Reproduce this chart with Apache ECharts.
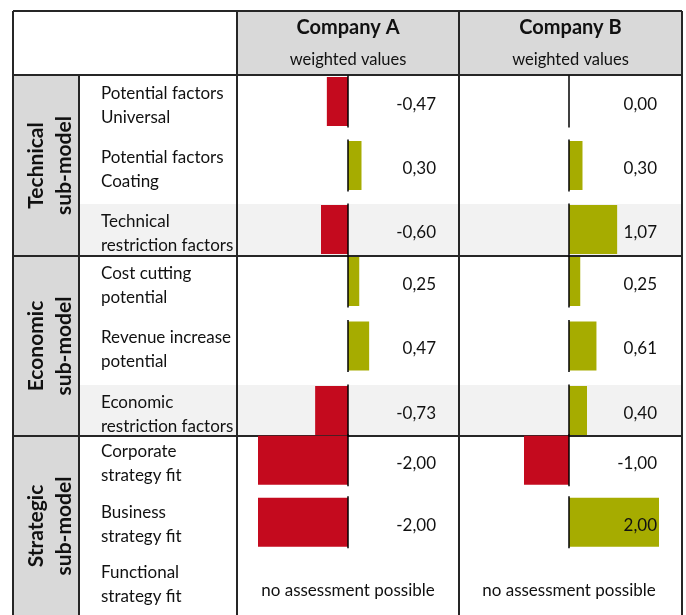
<!DOCTYPE html>
<html>
<head>
<meta charset="utf-8">
<script src="https://cdn.jsdelivr.net/npm/echarts@6/dist/echarts.min.js"></script>
<style>
  html, body { margin: 0; padding: 0; background: #fff; }
  #chart { width: 686px; height: 615px; }
</style>
</head>
<body>
<div id="chart"></div>
<script>
// data
var groups = ['Technical\nsub-model', 'Economic\nsub-model', 'Strategic\nsub-model']
var criteria = [
  ['Potential factors\nUniversal', 'Potential factors\nCoating', 'Technical\nrestriction factors'],
  ['Cost cutting\npotential', 'Revenue increase\npotential', 'Economic\nrestriction factors'],
  ['Corporate\nstrategy fit', 'Business\nstrategy fit', 'Functional\nstrategy fit']
]
var companies = ['Company A', 'Company B']
var subTitle = 'weighted values'
var companyA = [-0.47, 0.30, -0.60, 0.25, 0.47, -0.73, -2.00, -2.00, null]
var companyB = [0.00, 0.30, 1.07, 0.25, 0.61, 0.40, -1.00, 2.00, null]
var noValueText = 'no assessment possible'
var shadedRows = [2, 5]

var FONT = 'Lato'
var RED = '#c40a1e'
var OLIVE = '#a6ac00'
var LINE = '#262626'

// table layout
var colX = [13, 79, 237, 459, 682]
var rowY = [11, 75, 256, 436, 616]
var rowH = [64, 64.5, 65.5]
var firstRowCenter = [101.5, 281.5, 462]

var chart = echarts.init(document.getElementById('chart'))

function fmt (v) {
  return v.toFixed(2).replace('.', ',')
}

var grids = []
var xAxes = []
var yAxes = []
var series = []
var companyValues = [companyA, companyB]
var barLeft = [258, 479]

for (var g = 0; g < groups.length; g++) {
  var gTop = firstRowCenter[g] - rowH[g] / 2
  // label grid: carries the criteria names as axis labels (a few px lower than the bars)
  var li = grids.length
  grids.push({ left: barLeft[0], width: 180, top: gTop + 4, height: rowH[g] * 3 })
  xAxes.push({ gridIndex: li, type: 'value', min: -2, max: 2, show: false })
  yAxes.push({
    gridIndex: li,
    type: 'category',
    inverse: true,
    data: criteria[g],
    axisLine: { show: false },
    axisTick: { show: false },
    axisLabel: {
      interval: 0,
      align: 'left',
      margin: barLeft[0] - 101,
      lineHeight: 24,
      color: '#111',
      fontFamily: FONT,
      fontSize: 17
    }
  })

  for (var c = 0; c < companies.length; c++) {
    var idx = grids.length
    var vals = companyValues[c].slice(g * 3, g * 3 + 3)
    grids.push({
      left: barLeft[c],
      width: 180,
      top: gTop,
      height: rowH[g] * 3
    })
    xAxes.push({ gridIndex: idx, type: 'value', min: -2, max: 2, show: false })
    yAxes.push({
      gridIndex: idx,
      type: 'category',
      inverse: true,
      data: criteria[g],
      axisLine: { show: false },
      axisTick: { show: false },
      axisLabel: { show: false }
    })
    // transparent full-width bar that carries the value text at the right edge
    series.push({
      type: 'bar',
      xAxisIndex: idx,
      yAxisIndex: idx,
      barWidth: 49,
      barGap: '-100%',
      silent: true,
      z: 4,
      itemStyle: { color: 'rgba(0,0,0,0)' },
      label: {
        show: true,
        position: 'insideRight',
        distance: 2,
        offset: [0, 3],
        color: '#111',
        fontFamily: FONT,
        fontSize: 17,
        formatter: (function (vs) {
          return function (p) {
            var v = vs[p.dataIndex]
            return v == null ? '' : fmt(v)
          }
        })(vals)
      },
      data: vals.map(function (v) { return v == null ? '-' : 2 })
    })
    series.push({
      type: 'bar',
      xAxisIndex: idx,
      yAxisIndex: idx,
      barWidth: 49,
      silent: true,
      z: 3,
      data: vals.map(function (v) {
        if (v == null) return '-'
        return { value: v, itemStyle: { color: v < 0 ? RED : OLIVE } }
      })
    })
    // zero line per row, or a note where nothing was assessed
    series.push({
      type: 'custom',
      xAxisIndex: idx,
      yAxisIndex: idx,
      silent: true,
      z: 5,
      encode: { x: 0, y: 1 },
      data: vals.map(function (v, i) { return [0, i, v == null ? 0 : 1] }),
      renderItem: function (params, api) {
        var p = api.coord([0, api.value(1)])
        if (api.value(2)) {
          return {
            type: 'line',
            shape: { x1: p[0], y1: p[1] - 26, x2: p[0], y2: p[1] + 26 },
            style: { stroke: '#000', lineWidth: 1.5 }
          }
        }
        return {
          type: 'text',
          x: p[0],
          y: p[1] + 6,
          style: {
            text: noValueText,
            align: 'center',
            verticalAlign: 'middle',
            fill: '#111',
            font: '17px ' + FONT
          }
        }
      }
    })
  }
}

// table background, borders and header text
var el = []
el.push({ type: 'rect', shape: { x: colX[2], y: rowY[0], width: colX[4] - colX[2], height: rowY[1] - rowY[0] }, style: { fill: '#d9d9d9' } })
for (var g2 = 0; g2 < groups.length; g2++) {
  el.push({ type: 'rect', shape: { x: colX[0], y: rowY[g2 + 1], width: colX[1] - colX[0], height: rowY[g2 + 2] - rowY[g2 + 1] }, style: { fill: '#d9d9d9' } })
  el.push({
    type: 'text',
    x: 50,
    y: (rowY[g2 + 1] + rowY[g2 + 2]) / 2,
    rotation: Math.PI / 2,
    style: { text: groups[g2], align: 'center', verticalAlign: 'middle', font: 'bold 21px ' + FONT, lineHeight: 28, fill: '#111' }
  })
}
shadedRows.forEach(function (r) {
  var g3 = Math.floor(r / 3)
  el.push({ type: 'rect', shape: { x: colX[1], y: rowY[g3 + 1] + 129, width: colX[4] - colX[1], height: rowY[g3 + 2] - rowY[g3 + 1] - 129 }, style: { fill: '#f2f2f2' } })
})
for (var c2 = 0; c2 < companies.length; c2++) {
  var cx = (colX[c2 + 2] + colX[c2 + 3]) / 2
  el.push({ type: 'text', x: cx, y: 28, style: { text: companies[c2], align: 'center', verticalAlign: 'middle', font: 'bold 20px ' + FONT, fill: '#111' } })
  el.push({ type: 'text', x: cx, y: 60, style: { text: subTitle, align: 'center', verticalAlign: 'middle', font: '16.5px ' + FONT, fill: '#111' } })
}
function line (x1, y1, x2, y2) {
  el.push({ type: 'line', shape: { x1: x1, y1: y1, x2: x2, y2: y2 }, style: { stroke: LINE, lineWidth: 2 } })
}
for (var k = 0; k < rowY.length; k++) line(colX[0], rowY[k], colX[4], rowY[k])
line(colX[0], rowY[0], colX[0], rowY[4])
line(colX[1], rowY[1], colX[1], rowY[4])
line(colX[2], rowY[0], colX[2], rowY[4])
line(colX[3], rowY[0], colX[3], rowY[4])
line(colX[4], rowY[0], colX[4], rowY[4])

chart.setOption({
  animation: false,
  graphic: { elements: el },
  grid: grids,
  xAxis: xAxes,
  yAxis: yAxes,
  series: series
})
</script>
</body>
</html>
